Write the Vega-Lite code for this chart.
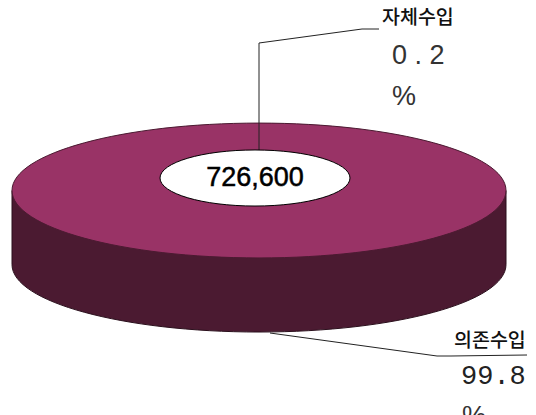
{
"$schema":"https://vega.github.io/schema/vega-lite/v6.json",
"width":536,"height":415,"padding":0,"autosize":{"type":"none"},
"background":"white",
"config":{"view":{"stroke":null}},
"datasets":{
"disc":[{"cx":259,"cy":190.5}],
"hub":[{"cx":255,"cy":178,"total":"726,600"}],
"leaders":[
{"seg":"자체수입","order":1,"x":259,"y":150},
{"seg":"자체수입","order":2,"x":259,"y":43},
{"seg":"자체수입","order":3,"x":362,"y":29},
{"seg":"자체수입","order":4,"x":379,"y":29},
{"seg":"의존수입","order":1,"x":270,"y":333},
{"seg":"의존수입","order":2,"x":437,"y":356},
{"seg":"의존수입","order":3,"x":451,"y":356},
{"seg":"의존수입","order":4,"x":527,"y":355}
],
"names":[{"t":"자체수입","x":382,"y":18},{"t":"의존수입","x":454,"y":341}],
"pcts":[{"t":"0 . 2","x":392,"y":56},{"t":"%","x":392,"y":97},{"t":"%","x":462,"y":417}],
"pctMono":[{"t":"99.8","x":461,"y":376}]
},
"encoding":{
"x":{"field":"x","type":"quantitative","scale":{"domain":[0,536]},"axis":null},
"y":{"field":"y","type":"quantitative","scale":{"domain":[415,0]},"axis":null}
},
"layer":[
{"data":{"name":"disc"},"mark":{"type":"point","filled":true,"size":244036,"opacity":1,"fill":"#4b1a31","stroke":"#2a0f1c","strokeWidth":1,
"shape":"M-1,0 L-1,0.3 A1,0.273 0 0,0 1,0.3 L1,0 Z"},
"encoding":{"x":{"field":"cx","type":"quantitative"},"y":{"field":"cy","type":"quantitative"}}},
{"data":{"name":"disc"},"mark":{"type":"point","filled":true,"size":244036,"opacity":1,"fill":"#993366","stroke":"#4b1a31","strokeWidth":1,
"shape":"M-1,0 A1,0.273 0 1,1 1,0 A1,0.273 0 1,1 -1,0 Z"},
"encoding":{"x":{"field":"cx","type":"quantitative"},"y":{"field":"cy","type":"quantitative"}}},
{"data":{"name":"leaders"},"mark":{"type":"line","color":"#222222","strokeWidth":1},
"encoding":{"detail":{"field":"seg"},"order":{"field":"order"}}},
{"data":{"name":"hub"},"mark":{"type":"point","filled":true,"size":36100,"opacity":1,"fill":"white","stroke":"black","strokeWidth":1,
"shape":"M-1,0 A1,0.295 0 1,1 1,0 A1,0.295 0 1,1 -1,0 Z"},
"encoding":{"x":{"field":"cx","type":"quantitative"},"y":{"field":"cy","type":"quantitative"}}},
{"data":{"name":"hub"},"mark":{"type":"text","font":"Liberation Sans","fontSize":27,"color":"black","stroke":"black","strokeWidth":0.5,"align":"center","baseline":"middle"},
"encoding":{"x":{"field":"cx","type":"quantitative"},"y":{"field":"cy","type":"quantitative"},"text":{"field":"total"}}},
{"data":{"name":"names"},"mark":{"type":"text","font":"Noto Sans CJK KR","fontSize":19.5,"fontWeight":500,"color":"#111111","align":"left","baseline":"middle"},
"encoding":{"text":{"field":"t"}}},
{"data":{"name":"pcts"},"mark":{"type":"text","font":"Liberation Sans","fontSize":27,"color":"#333333","align":"left","baseline":"middle"},
"encoding":{"text":{"field":"t"}}},
{"data":{"name":"pctMono"},"mark":{"type":"text","font":"Liberation Mono","fontSize":27,"color":"#222222","align":"left","baseline":"middle"},
"encoding":{"text":{"field":"t"}}}
]
}
